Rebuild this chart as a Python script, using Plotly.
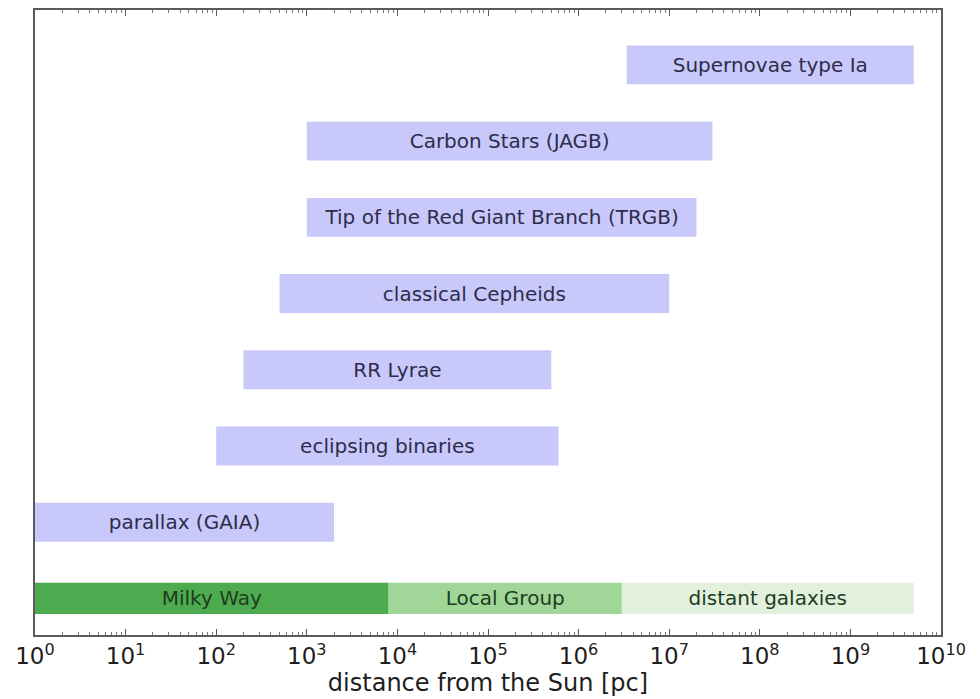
import plotly.graph_objects as go

# distance-ladder methods (pc)
methods = ["parallax (GAIA)", "eclipsing binaries", "RR Lyrae", "classical Cepheids",
           "Tip of the Red Giant Branch (TRGB)", "Carbon Stars (JAGB)", "Supernovae type Ia"]
method_start = [1, 100, 200, 500, 1000, 1000, 3.4e6]
method_end = [2e3, 6e5, 5e5, 1e7, 2e7, 3e7, 5e9]
method_pos = [1, 2, 3, 4, 5, 6, 7]

regions = ["Milky Way", "Local Group", "distant galaxies"]
region_start = [1, 8e3, 3e6]
region_end = [8e3, 3e6, 5e9]
region_colors = ["rgb(78,170,78)", "rgb(160,214,152)", "rgb(226,241,222)"]

tick_vals = [10 ** i for i in range(11)]
tick_labels = ["10<sup>%d</sup>" % i for i in range(11)]

font = "DejaVu Sans, Liberation Sans, sans-serif"

fig = go.Figure()
fig.add_trace(go.Bar(
    orientation="h",
    y=method_pos,
    base=method_start,
    x=[e - s for s, e in zip(method_start, method_end)],
    width=0.51,
    marker=dict(color="rgb(200,200,250)", line=dict(width=0)),
    text=methods,
    textposition="inside",
    insidetextanchor="middle",
    textangle=0,
    constraintext="none",
    textfont=dict(family=font, size=20, color="rgb(45,45,75)"),
    hoverinfo="skip",
    showlegend=False,
))
fig.add_trace(go.Bar(
    orientation="h",
    y=[0, 0, 0],
    base=region_start,
    x=[e - s for s, e in zip(region_start, region_end)],
    width=0.41,
    marker=dict(color=region_colors, line=dict(width=0)),
    text=regions,
    textposition="inside",
    insidetextanchor="middle",
    textangle=0,
    constraintext="none",
    textfont=dict(family=font, size=20, color="rgb(30,60,30)"),
    hoverinfo="skip",
    showlegend=False,
))

fig.update_layout(
    width=972, height=691,
    margin=dict(l=27, r=39, t=2, b=64, autoexpand=False),
    plot_bgcolor="white", paper_bgcolor="white",
    barmode="overlay",
    font=dict(family=font, size=22, color="rgb(30,30,30)"),
    xaxis=dict(
        type="log", range=[0, 10], automargin=False,
        tickvals=tick_vals, ticktext=tick_labels,
        ticks="inside", ticklen=6, tickcolor="rgb(90,90,90)",
        minor=dict(ticks="inside", ticklen=3, dtick="D1", tickcolor="rgb(120,120,120)"),
        showgrid=False, zeroline=False,
        showline=True, linecolor="rgb(90,90,90)", linewidth=1.5, mirror="allticks",
        tickfont=dict(size=23),
        title=dict(text="distance from the Sun [pc]", font=dict(size=24), standoff=0),
    ),
    yaxis=dict(
        range=[-0.48, 7.72], showticklabels=False, ticks="", automargin=False,
        showgrid=False, zeroline=False,
        showline=True, linecolor="rgb(90,90,90)", linewidth=1.5, mirror=True,
    ),
)

fig.write_html("out.html")
